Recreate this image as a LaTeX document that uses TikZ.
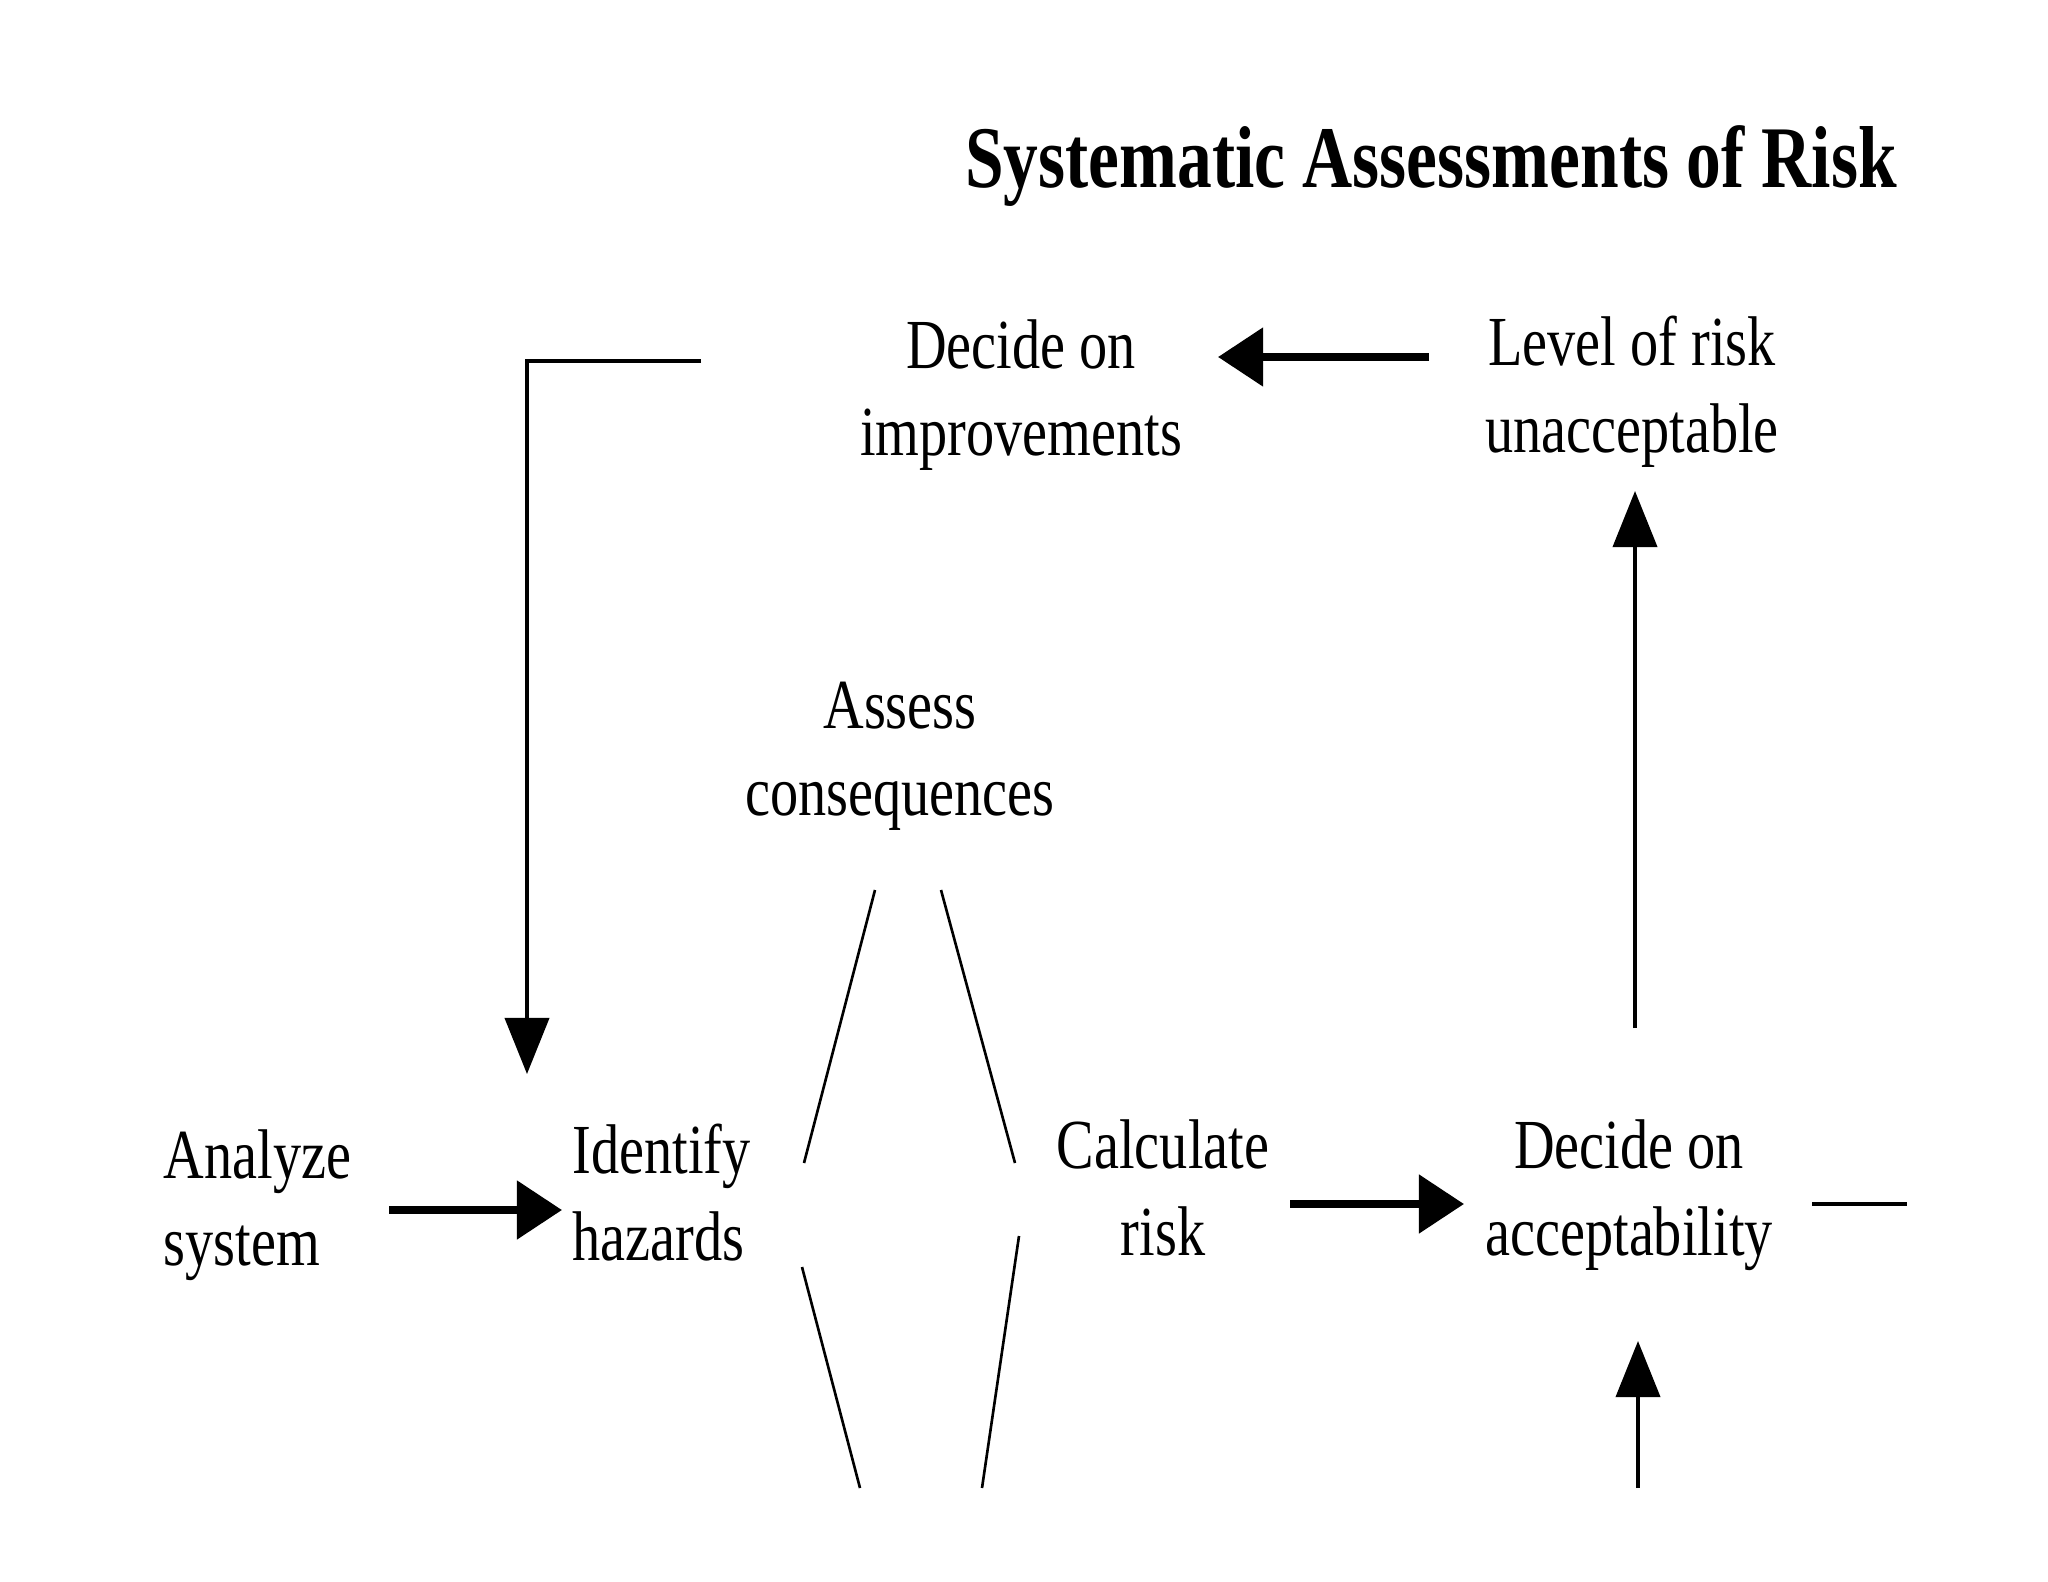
\documentclass[tikz,border=0pt]{standalone}
\usepackage{fontspec}
\newfontfamily\bodyfont{Liberation Serif}[FakeStretch=0.80]
\newfontfamily\titlefont{Liberation Serif}[FakeStretch=0.79]
\usetikzlibrary{arrows.meta}
\begin{document}
\begin{tikzpicture}[x=0.01cm,y=-0.01cm,
  lbl/.style={inner sep=0pt, font=\bodyfont\fontsize{20pt}{24.75pt}\selectfont},
  bigarrow/.style={line width=2.3pt, -{Triangle[length=4.5mm,width=5.7mm]}},
  smallarrow/.style={line width=1.1pt, -{Triangle[length=5.6mm,width=4.4mm]}},
  fineline/.style={line width=0.75pt}]
\fill[white] (0,0) rectangle (2048,1582);
\useasboundingbox (0,0) rectangle (2048,1582);

\node[lbl, anchor=base, font=\titlefont\bfseries\fontsize{25pt}{30pt}\selectfont] (title) at (1431,188) {Systematic Assessments of Risk};

\node[lbl, align=center, anchor=north] (improve) at (1021,319) {Decide on\\improvements};
\node[lbl, align=center, anchor=north] (level) at (1632,315) {Level of risk\\unacceptable};
\node[lbl, align=center, anchor=north] (assess) at (900,681) {Assess\\consequences};
\node[lbl, align=left, anchor=north west] (analyze) at (163,1129) {Analyze\\system};
\node[lbl, align=left, anchor=north west] (identify) at (572,1123) {Identify\\hazards};
\node[lbl, align=center, anchor=north] (calc) at (1163,1119) {Calculate\\risk};
\node[lbl, align=center, anchor=north] (accept) at (1629,1119) {Decide on\\acceptability};

% connector end points
\coordinate (a1) at (389,1210); \coordinate (a2) at (562,1210);
\coordinate (c1) at (1290,1204); \coordinate (c2) at (1464,1204);
\coordinate (l1) at (1429,357); \coordinate (l2) at (1218,357);
\coordinate (e1) at (701,361); \coordinate (e2) at (527,361); \coordinate (e3) at (527,1074);
\coordinate (u1) at (1635,1028); \coordinate (u2) at (1635,491);
\coordinate (b1) at (1638,1488); \coordinate (b2) at (1638,1341);
\coordinate (s1) at (1812,1204); \coordinate (s2) at (1907,1204);
\coordinate (va1) at (875,890); \coordinate (va2) at (804,1163);
\coordinate (vb1) at (941,890); \coordinate (vb2) at (1015,1163);
\coordinate (vc1) at (802,1267); \coordinate (vc2) at (860,1488);
\coordinate (vd1) at (1019,1236); \coordinate (vd2) at (982,1488);

\draw[bigarrow] (a1) -- (a2);
\draw[bigarrow] (c1) -- (c2);
\draw[bigarrow] (l1) -- (l2);
\draw[smallarrow] (e1) -- (e2) -- (e3);
\draw[smallarrow] (u1) -- (u2);
\draw[smallarrow] (b1) -- (b2);
\draw[line width=1.1pt] (s1) -- (s2);
\draw[fineline] (va1) -- (va2);
\draw[fineline] (vb1) -- (vb2);
\draw[fineline] (vc1) -- (vc2);
\draw[fineline] (vd1) -- (vd2);
\end{tikzpicture}
\end{document}
